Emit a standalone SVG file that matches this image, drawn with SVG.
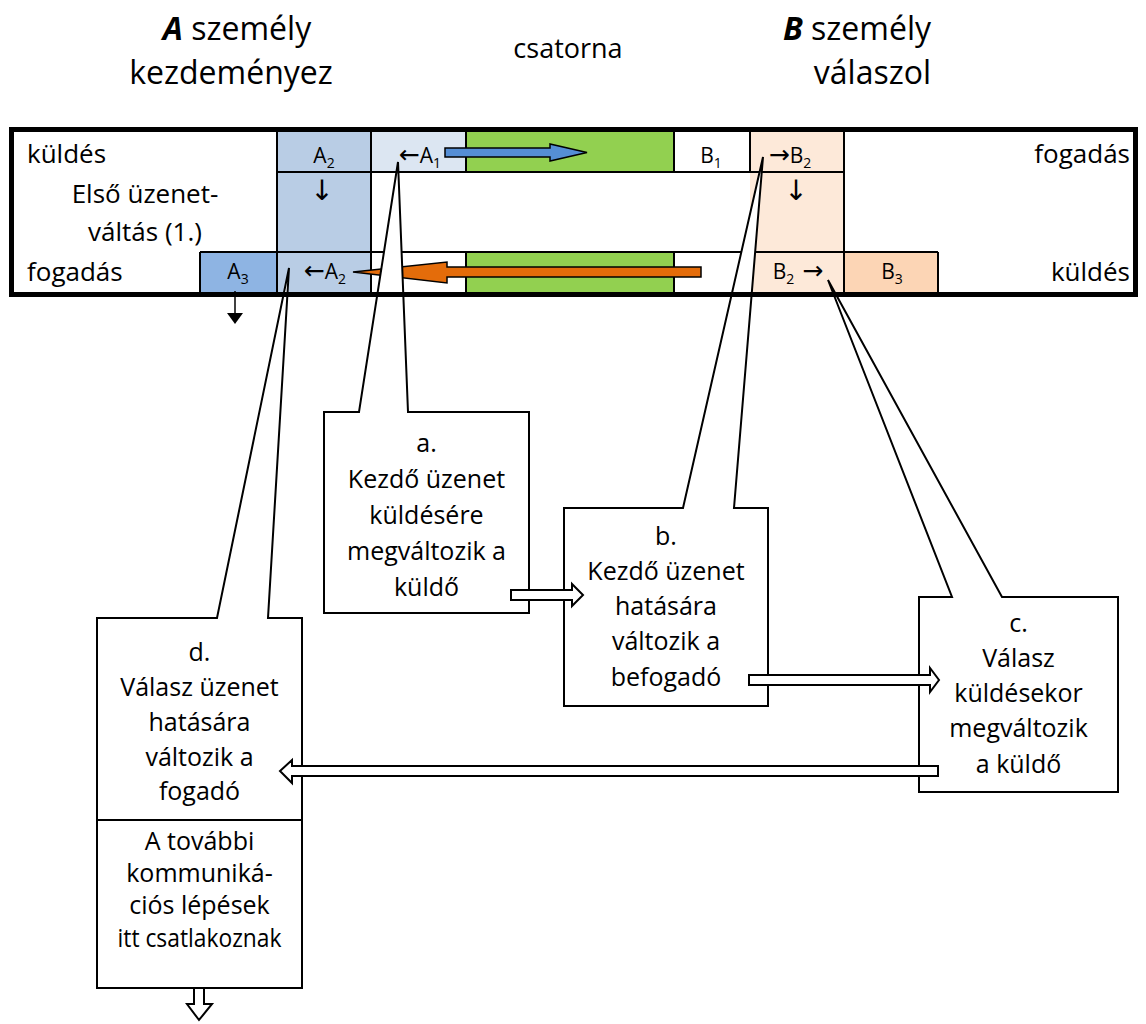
<svg xmlns="http://www.w3.org/2000/svg" width="1146" height="1024" viewBox="0 0 1146 1024">
<style>
text{font-family:"Open Sans","DejaVu Sans",sans-serif;fill:#000}
.hdr{font-size:32px}
.lbl{font-size:26px}
.cell{font-size:21px;text-anchor:middle}
.sub{font-size:14px}
.ag{font-family:"DejaVu Sans",sans-serif;font-size:25px}
.arr{font-family:"DejaVu Sans",sans-serif;font-size:28px;text-anchor:middle}
.box{font-size:25px;text-anchor:middle}
.grid{stroke:#000;stroke-width:2;fill:none}
.call{fill:#fff;stroke:#000;stroke-width:2;stroke-linejoin:miter}
.blk{fill:#fff;stroke:#000;stroke-width:2}
</style>

<g id="headers">
  <text class="hdr" x="237" y="40" text-anchor="middle"><tspan font-weight="bold" font-style="italic">A</tspan> személy</text>
  <text class="hdr" x="231" y="84" text-anchor="middle">kezdeményez</text>
  <text x="568" y="58" text-anchor="middle" font-size="27">csatorna</text>
  <text class="hdr" x="931" y="40" text-anchor="end"><tspan font-weight="bold" font-style="italic">B</tspan> személy</text>
  <text class="hdr" x="931" y="84" text-anchor="end">válaszol</text>
</g>

<g id="table">
  <rect x="277" y="132" width="94" height="160" fill="#B9CDE5"/>
  <rect x="371" y="132" width="95" height="40" fill="#DCE6F2"/>
  <rect x="466" y="132" width="208" height="40" fill="#92D050"/>
  <rect x="466" y="252" width="208" height="40" fill="#92D050"/>
  <rect x="750" y="132" width="94" height="160" fill="#FDE9D9"/>
  <rect x="200" y="252" width="77" height="40" fill="#8EB4E3"/>
  <rect x="844" y="252" width="94" height="40" fill="#FCD5B5"/>
  <path class="grid" d="M277,172H844M200,252H938M277,132V292M371,132V292M466,132V172M466,252V292M674,132V172M674,252V292M750,132V172M750,252V292M844,132V292M200,252V292M938,252V292"/>

  <text class="lbl" x="27" y="163">küldés</text>
  <text class="lbl" x="145" y="203" text-anchor="middle">Első üzenet-</text>
  <text class="lbl" x="145" y="241" text-anchor="middle">váltás (1.)</text>
  <text class="lbl" x="27" y="281">fogadás</text>
  <text class="lbl" x="1130" y="163" text-anchor="end">fogadás</text>
  <text class="lbl" x="1130" y="281" text-anchor="end">küldés</text>

  <text class="cell" x="324" y="163">A<tspan class="sub" dy="5">2</tspan></text>
  <text class="arr" x="322" y="200">↓</text>
  <text class="cell" x="420" y="163"><tspan class="ag">←</tspan>A<tspan class="sub" dy="5">1</tspan></text>
  <text class="cell" x="711" y="163">B<tspan class="sub" dy="5">1</tspan></text>
  <text class="cell" x="790" y="163"><tspan class="ag">→</tspan>B<tspan class="sub" dy="5">2</tspan></text>
  <text class="arr" x="796" y="200">↓</text>
  <text class="cell" x="238" y="279">A<tspan class="sub" dy="5">3</tspan></text>
  <text class="cell" x="325" y="279"><tspan class="ag">←</tspan>A<tspan class="sub" dy="5">2</tspan></text>
  <text class="cell" x="798" y="279">B<tspan class="sub" dy="5">2</tspan><tspan class="ag" dy="-5"> →</tspan></text>
  <text class="cell" x="892" y="279">B<tspan class="sub" dy="5">3</tspan></text>
</g>

<g id="connectors">
  <polygon points="445,148 550,148 550,144 587,152.5 550,161 550,157 445,157" fill="#558ED5" stroke="#000" stroke-width="1.5"/>
  <polygon points="701,267 447,267 447,262 353,272 447,283 447,277 701,277" fill="#E46C0A" stroke="#000" stroke-width="1.5"/>
  <line x1="235" y1="291" x2="235" y2="314" stroke="#000" stroke-width="1.5"/>
  <polygon points="227,313 243,313 235,324" fill="#000"/>
</g>

<g id="callout-a">
  <polygon class="call" points="324,412 359,412 398,162 408,412 529,412 529,613 324,613"/>
  <text class="box" x="426.5" y="452">a.</text>
  <text class="box" x="426.5" y="488">Kezdő üzenet</text>
  <text class="box" x="426.5" y="524">küldésére</text>
  <text class="box" x="426.5" y="560">megváltozik a</text>
  <text class="box" x="426.5" y="596">küldő</text>
</g>

<g id="callout-b">
  <polygon class="call" points="564,508 683,508 763,157 734,508 768,508 768,706 564,706"/>
  <text class="box" x="666" y="545">b.</text>
  <text class="box" x="666" y="580">Kezdő üzenet</text>
  <text class="box" x="666" y="615">hatására</text>
  <text class="box" x="666" y="650">változik a</text>
  <text class="box" x="666" y="686">befogadó</text>
</g>

<g id="callout-c">
  <polygon class="call" points="919,597 952,597 828,280 1002,597 1118,597 1118,792 919,792"/>
  <text class="box" x="1018.5" y="632">c.</text>
  <text class="box" x="1018.5" y="667">Válasz</text>
  <text class="box" x="1018.5" y="702">küldésekor</text>
  <text class="box" x="1018.5" y="737">megváltozik</text>
  <text class="box" x="1018.5" y="773">a küldő</text>
</g>

<g id="callout-d">
  <polygon class="call" points="97,618 217,618 289,268 268,618 302,618 302,820 97,820"/>
  <text class="box" x="199.5" y="661">d.</text>
  <text class="box" x="199.5" y="696">Válasz üzenet</text>
  <text class="box" x="199.5" y="731">hatására</text>
  <text class="box" x="199.5" y="766">változik a</text>
  <text class="box" x="199.5" y="800">fogadó</text>
</g>

<g id="next-steps">
  <rect class="call" x="97" y="820" width="205" height="168"/>
  <text class="box" x="199.5" y="850">A további</text>
  <text class="box" x="199.5" y="882">kommuniká-</text>
  <text class="box" x="199.5" y="914">ciós lépések</text>
  <text class="box" x="199.5" y="947" textLength="164" lengthAdjust="spacingAndGlyphs">itt csatlakoznak</text>
</g>

<g id="flow-arrows">
  <polygon class="blk" points="511,590 572,590 572,584 583,595 572,606 572,600 511,600"/>
  <polygon class="blk" points="749,675 930,675 930,668 939,680 930,692 930,685 749,685"/>
  <polygon class="blk" points="938,766 292,766 292,760 280,771 292,783 292,776 938,776"/>
  <polygon class="blk" points="194,988 204,988 204,1004 212,1004 199,1020 187,1004 194,1004"/>
</g>

<g id="frame">
  <rect x="11.5" y="129.5" width="1124" height="165" fill="none" stroke="#000" stroke-width="5"/>
</g>
</svg>
